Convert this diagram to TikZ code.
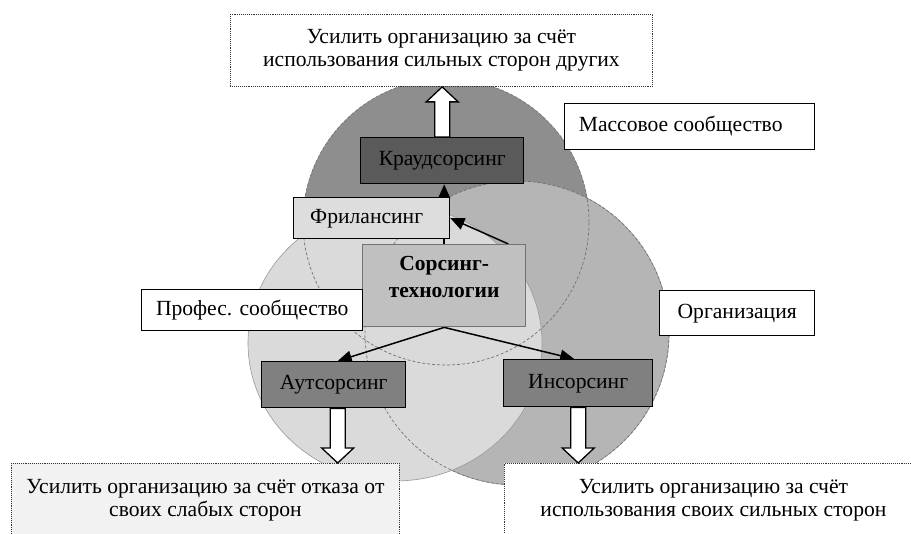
\documentclass[tikz,border=0pt]{standalone}
\usepackage{fontspec}
\setmainfont{Liberation Serif}
\usetikzlibrary{calc,arrows.meta}
\definecolor{topc}{HTML}{8E8E8E}
\definecolor{rightc}{HTML}{B5B5B5}
\definecolor{leftc}{HTML}{DADADA}
\definecolor{krc}{HTML}{5A5A5A}
\definecolor{auc}{HTML}{808080}
\definecolor{soc}{HTML}{C0C0C0}
\definecolor{frc}{HTML}{DDDDDD}
\definecolor{blc}{HTML}{F2F2F2}
\pgfdeclarelayer{circlayer}
\pgfdeclarelayer{arrlayer}
\pgfsetlayers{circlayer,arrlayer,main}
\newcommand\blockarrow[3]{%
  \draw[blockarr] ($(#1)+(-7.5,0)$) -- ($(#2)+(-7.5,#3*15)$) -- ($(#2)+(-16,#3*15)$) -- (#2)
    -- ($(#2)+(16,#3*15)$) -- ($(#2)+(7.5,#3*15)$) -- ($(#1)+(7.5,0)$) -- cycle;}
\begin{document}
\begin{tikzpicture}[x=1pt,y=-1pt,
  every node/.style={font=\fontsize{21.6}{23.5}\selectfont, text=black},
  solidbox/.style={draw=black, line width=1.4pt, inner sep=0pt, anchor=north west, align=center},
  oneline/.style={text height=14.5pt, text depth=4.5pt},
  dotbox/.style={draw=black!80, line width=0.9pt, densely dotted, inner sep=0pt, anchor=north west, align=center},
  arr/.style={line width=1.5pt, -{Triangle[length=14pt,width=12pt]}},
  blockarr/.style={draw=black, line width=1.3pt, fill=white, line join=miter},
  circ/.style={draw=gray!80, line width=0.6pt},
  hidden/.style={draw=gray!90!black, line width=0.7pt, dash pattern=on 3pt off 2pt}]
\useasboundingbox (0,0) rectangle (911,534);
% nodes
\node[dotbox, fill=white, minimum width=422pt, minimum height=72pt] (goal) at (230,14)
  {Усилить организацию за счёт\\использования сильных сторон других};
\node[solidbox, oneline, fill=krc, minimum width=163pt, minimum height=46pt] (kr) at (360,137) {Краудсорсинг};
\node[solidbox, oneline, fill=white, minimum width=250pt, minimum height=46pt] (mass) at (564,103) {Массовое сообщество\hspace*{18pt}};
\node[solidbox, oneline, fill=frc, minimum width=156pt, minimum height=41pt] (fr) at (293,197) {Фрилансинг\hspace*{10pt}};
\node[solidbox, draw=black!55, fill=soc, minimum width=163pt, minimum height=82pt,
  font=\fontsize{21.5}{27}\selectfont\bfseries] (so) at (362,244) {Сорсинг-\\технологии\\[-9pt]\mbox{}};
\node[solidbox, oneline, fill=white, minimum width=221pt, minimum height=41pt] (prof) at (141,289) {Профес. сообщество};
\node[solidbox, oneline, fill=white, minimum width=155pt, minimum height=45pt] (org) at (659,290) {Организация};
\node[solidbox, oneline, fill=auc, minimum width=144pt, minimum height=46pt] (au) at (261,361) {Аутсорсинг};
\node[solidbox, oneline, fill=auc, minimum width=149pt, minimum height=47pt] (in) at (503,359) {Инсорсинг};
\node[dotbox, fill=blc, minimum width=388pt, minimum height=74pt] (gl) at (11,463)
  {Усилить организацию за счёт отказа от\\своих слабых сторон};
\node[dotbox, fill=white, minimum width=418pt, minimum height=74pt] (gr) at (504,463)
  {Усилить организацию за счёт\\использования своих сильных сторон};
% circles
\begin{pgfonlayer}{circlayer}
\fill[white] (0,0) rectangle (911,534);
\coordinate (ct) at (446,222);
\coordinate (cr) at (517,333);
\coordinate (cl) at (395,343);
\path[circ, fill=topc] (ct) circle (143pt);
\path[circ, fill=rightc] (cr) circle (152pt);
\path[circ, fill=leftc] (cl) ellipse [x radius=147pt, y radius=138pt];
\draw[hidden] (ct) circle (143pt);
\draw[hidden] (cr) circle (152pt);
\end{pgfonlayer}
% connectors
\begin{pgfonlayer}{arrlayer}
\draw[arr] (so.north) -- (so.north |- kr.south);
\draw[arr] ([xshift=-18pt]so.north east) -- (fr.east);
\draw[arr] (so.south) -- ([xshift=4pt]au.north);
\draw[arr] (so.south) -- ([xshift=-4pt]in.north);
\end{pgfonlayer}
% block arrows
\coordinate (t1) at (goal.south -| kr.north);
\blockarrow{kr.north}{t1}{1}
\coordinate (b1) at ([xshift=4pt]au.south);
\coordinate (t2) at (gl.north -| b1);
\blockarrow{b1}{t2}{-1}
\coordinate (b2) at (in.south);
\coordinate (t3) at (gr.north -| b2);
\blockarrow{b2}{t3}{-1}
\end{tikzpicture}
\end{document}
